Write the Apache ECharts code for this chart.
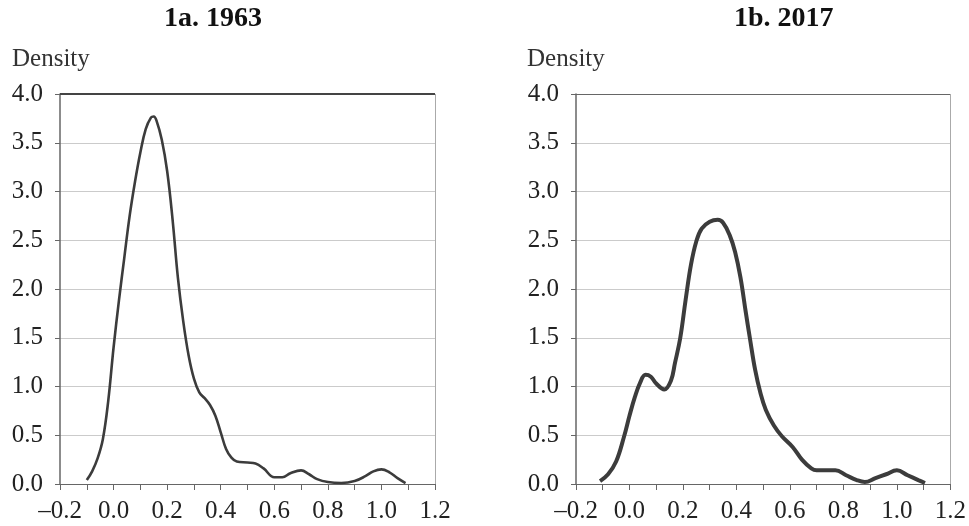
<!DOCTYPE html>
<html>
<head>
<meta charset="utf-8">
<script src="https://cdn.jsdelivr.net/npm/echarts@6/dist/echarts.min.js"></script>
<style>
  html, body { margin: 0; padding: 0; background: #fff; }
  #chart { width: 969px; height: 526px; }
</style>
</head>
<body>
<div id="chart"></div>
<script>
// kernel density estimates, [x, density]
const density1963 = [
  [-0.10, 0.04], [-0.08, 0.13], [-0.06, 0.26], [-0.04, 0.46], [-0.02, 0.85], [0.00, 1.40],
  [0.02, 1.88], [0.04, 2.32], [0.06, 2.75], [0.08, 3.10], [0.10, 3.40], [0.12, 3.64],
  [0.14, 3.76], [0.15, 3.77], [0.16, 3.73], [0.18, 3.53], [0.20, 3.21], [0.22, 2.72],
  [0.24, 2.12], [0.26, 1.67], [0.28, 1.32], [0.30, 1.08], [0.32, 0.94], [0.34, 0.88],
  [0.36, 0.81], [0.38, 0.70], [0.40, 0.53], [0.42, 0.36], [0.44, 0.27], [0.46, 0.23],
  [0.50, 0.22], [0.53, 0.21], [0.56, 0.16], [0.60, 0.07], [0.63, 0.07], [0.66, 0.11],
  [0.70, 0.14], [0.73, 0.10], [0.76, 0.05], [0.80, 0.02], [0.85, 0.01], [0.90, 0.03],
  [0.94, 0.08], [0.97, 0.13], [1.00, 0.15], [1.03, 0.12], [1.06, 0.06], [1.09, 0.01]
];
const density2017 = [
  [-0.11, 0.03], [-0.08, 0.10], [-0.05, 0.23], [-0.02, 0.49], [0.00, 0.70], [0.02, 0.89],
  [0.04, 1.04], [0.06, 1.12], [0.08, 1.10], [0.10, 1.03], [0.13, 0.97], [0.155, 1.06],
  [0.17, 1.24], [0.19, 1.50], [0.21, 1.89], [0.23, 2.25], [0.25, 2.49], [0.27, 2.62],
  [0.30, 2.69], [0.33, 2.71], [0.35, 2.68], [0.375, 2.55], [0.395, 2.38], [0.415, 2.12],
  [0.435, 1.76], [0.45, 1.50], [0.47, 1.17], [0.49, 0.93], [0.51, 0.76], [0.54, 0.60],
  [0.57, 0.49], [0.61, 0.38], [0.645, 0.25], [0.68, 0.16], [0.70, 0.14], [0.77, 0.14],
  [0.81, 0.09], [0.85, 0.04], [0.88, 0.02], [0.92, 0.06], [0.96, 0.10], [1.00, 0.14],
  [1.04, 0.09], [1.08, 0.04], [1.105, 0.01]
];
const panelTitles = ['1a. 1963', '1b. 2017'];
const yName = 'Density';

const serif = "'Liberation Serif', 'DejaVu Serif', serif";
const ink = '#3c3c3c';

const fmtX = (v) => {
  const r = Math.round(v * 10);
  if (r % 2 !== 0) return '';
  const s = Math.abs(v).toFixed(1);
  return v < -1e-9 ? '\u2013' + s : s;
};

const xAxisBase = (gridIndex) => ({
  type: 'value', gridIndex, min: -0.2, max: 1.2, interval: 0.1,
  axisLine: { show: true, onZero: false, lineStyle: { color: '#666', width: 1 } },
  axisTick: { show: true, length: 6, lineStyle: { color: '#666' } },
  axisLabel: { formatter: fmtX, margin: 15, color: '#222', fontFamily: serif, fontSize: 25 },
  splitLine: { show: false }
});
const yAxisBase = (gridIndex) => ({
  type: 'value', gridIndex, min: 0, max: 4, interval: 0.5,
  axisLine: { show: true, onZero: false, lineStyle: { color: '#666', width: 1.5 } },
  axisTick: { show: true, length: 5, lineStyle: { color: '#666' } },
  axisLabel: { formatter: (v) => v.toFixed(1), margin: 17, color: '#222', fontFamily: serif, fontSize: 25 },
  splitLine: { show: true, lineStyle: { color: '#cbcbcb', width: 1 } }
});

const frame = (topColor, topWidth) => ({
  silent: true, symbol: 'none', label: { show: false },
  data: [
    { yAxis: 4, lineStyle: { color: topColor, width: topWidth, type: 'solid' } },
    { xAxis: 1.2, lineStyle: { color: '#aaa', width: 1, type: 'solid' } }
  ]
});

const chart = echarts.init(document.getElementById('chart'));
chart.setOption({
  animation: false,
  title: [
    { text: panelTitles[0], left: 164, top: 5, padding: 0,
      textStyle: { fontFamily: serif, fontSize: 28, fontWeight: 'bold', color: '#111' } },
    { text: panelTitles[1], left: 734, top: 5, padding: 0,
      textStyle: { fontFamily: serif, fontSize: 28, fontWeight: 'bold', color: '#111' } },
    { text: yName, left: 12, top: 47, padding: 0,
      textStyle: { fontFamily: serif, fontSize: 25, fontWeight: 'normal', color: '#333' } },
    { text: yName, left: 527, top: 47, padding: 0,
      textStyle: { fontFamily: serif, fontSize: 25, fontWeight: 'normal', color: '#333' } }
  ],
  grid: [
    { left: 60, right: 534, top: 94, bottom: 42 },
    { left: 576, right: 17, top: 94, bottom: 42 }
  ],
  xAxis: [xAxisBase(0), xAxisBase(1)],
  yAxis: [yAxisBase(0), yAxisBase(1)],
  series: [
    {
      type: 'line', xAxisIndex: 0, yAxisIndex: 0, data: density1963,
      smooth: 0.4, symbol: 'none', lineStyle: { color: ink, width: 2.6 },
      markLine: frame('#444', 2)
    },
    {
      type: 'line', xAxisIndex: 1, yAxisIndex: 1, data: density2017,
      smooth: 0.4, symbol: 'none', lineStyle: { color: ink, width: 4 },
      markLine: frame('#666', 1.2)
    }
  ]
});
</script>
</body>
</html>
